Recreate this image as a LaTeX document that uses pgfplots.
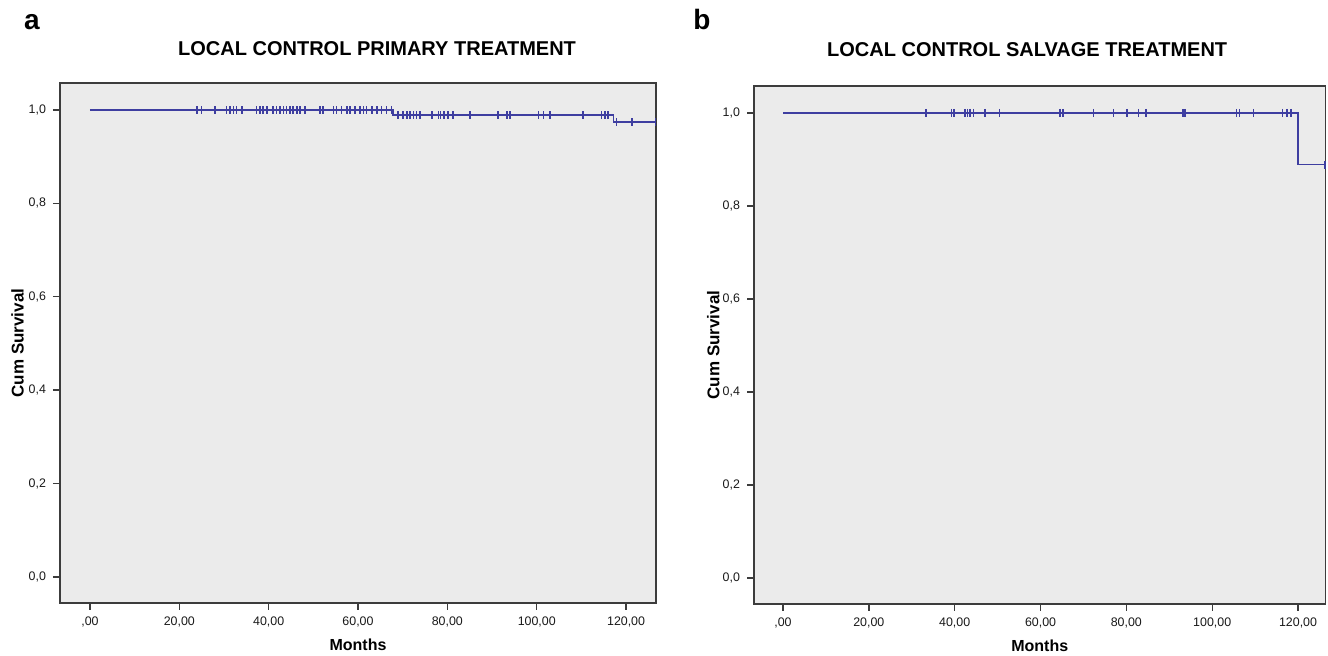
\documentclass[border=0pt]{standalone}
\usepackage{pgfplots}
\pgfplotsset{compat=1.18}
\usepackage{fontspec}
\setmainfont{Liberation Sans}
\definecolor{kmline}{RGB}{62,62,160}
\definecolor{panelbg}{RGB}{235,235,235}
\definecolor{frame}{RGB}{60,60,60}
\pgfplotsset{kmaxis/.style={
  scale only axis, anchor=south west,
  axis background/.style={fill=panelbg},
  axis line style={frame, line width=0.8pt},
  tick style={frame, line width=0.7pt},
  tick align=outside, major tick length=3.5pt,
  xtick pos=bottom, ytick pos=left,
  xtick={0,20,40,60,80,100,120},
  xticklabels={{,00},{20,00},{40,00},{60,00},{80,00},{100,00},{120,00}},
  ytick={0,0.2,0.4,0.6,0.8,1},
  yticklabels={{0,0},{0,2},{0,4},{0,6},{0,8},{1,0}},
  ticklabel style={font=\fontsize{6.2}{7}\selectfont, text=black!90},
  ymin=-0.056, ymax=1.058,
  title style={font=\bfseries\fontsize{10}{12}\selectfont, anchor=center, yshift=-6pt},
  xlabel style={font=\bfseries\fontsize{8}{10}\selectfont, at={(axis description cs:0.5,-0.081)}, anchor=center},
  ylabel style={font=\bfseries\fontsize{8.5}{10}\selectfont, at={(axis description cs:-0.0713,0.5)}, anchor=center},
  xlabel={Months}, ylabel={Cum Survival},
}}
\begin{document}
\begin{tikzpicture}
\path[use as bounding box] (0,0) rectangle (664pt,328pt);
\node[font=\bfseries\fontsize{14}{16}\selectfont] at (16pt,317pt) {a};
\node[font=\bfseries\fontsize{14}{16}\selectfont] at (351pt,318pt) {b};
\begin{axis}[kmaxis, at={(30pt,26.5pt)}, width=298pt, height=260pt,
  xmin=-6.7, xmax=126.7,
  title={LOCAL CONTROL PRIMARY TREATMENT},
  title style={at={(axis description cs:0.532,1.067)}}]
\addplot[kmline, line width=0.9pt, const plot, mark=none] coordinates {(0,1) (67.9,0.989) (117.2,0.974) (126.6,0.974)};
\addplot[kmline, only marks, mark=|, mark size=2pt, mark options={line width=0.8pt}] coordinates {
(23.9,1) (25.0,1) (28.0,1) (30.6,1) (31.3,1) (32.1,1) (32.8,1) (34.0,1) (37.3,1) (38.1,1) (38.8,1) (39.6,1) (41.0,1) (41.8,1) (42.5,1) (43.3,1) (44.0,1) (44.8,1) (45.5,1) (46.3,1) (47.0,1) (48.1,1) (51.5,1) (52.2,1) (54.5,1) (55.2,1) (56.3,1) (57.5,1) (58.2,1) (59.3,1) (60.4,1) (61.2,1) (61.9,1) (63.1,1) (64.2,1) (65.3,1) (66.4,1) (67.5,1)
(69.0,0.989) (70.1,0.989) (70.9,0.989) (71.6,0.989) (72.4,0.989) (73.1,0.989) (73.9,0.989) (76.5,0.989) (78.0,0.989) (78.5,0.989) (79.2,0.989) (80.2,0.989) (81.3,0.989) (85.1,0.989) (91.4,0.989) (93.4,0.989) (94.0,0.989) (100.4,0.989) (101.5,0.989) (103.0,0.989) (110.4,0.989) (114.5,0.989) (115.3,0.989) (116.0,0.989)
(117.9,0.974) (121.3,0.974) (126.6,0.974)};
\end{axis}
\begin{axis}[kmaxis, at={(377pt,26pt)}, width=285.75pt, height=259pt,
  xmin=-6.76, xmax=126.4,
  title={LOCAL CONTROL SALVAGE TREATMENT},
  title style={at={(axis description cs:0.478,1.07)}}]
\addplot[kmline, line width=0.9pt, const plot, mark=none] coordinates {(0,1) (119.9,0.889) (126.3,0.889)};
\addplot[kmline, only marks, mark=|, mark size=2pt, mark options={line width=0.8pt}] coordinates {
(33.3,1) (39.3,1) (39.9,1) (42.4,1) (43.0,1) (43.6,1) (44.4,1) (47.1,1) (50.4,1) (64.5,1) (65.3,1) (72.3,1) (77.0,1) (80.1,1) (82.8,1) (84.6,1) (93.2,1) (93.7,1) (105.7,1) (106.4,1) (109.6,1) (116.4,1) (117.4,1) (118.3,1)
(126.3,0.889)};
\end{axis}
\end{tikzpicture}
\end{document}
